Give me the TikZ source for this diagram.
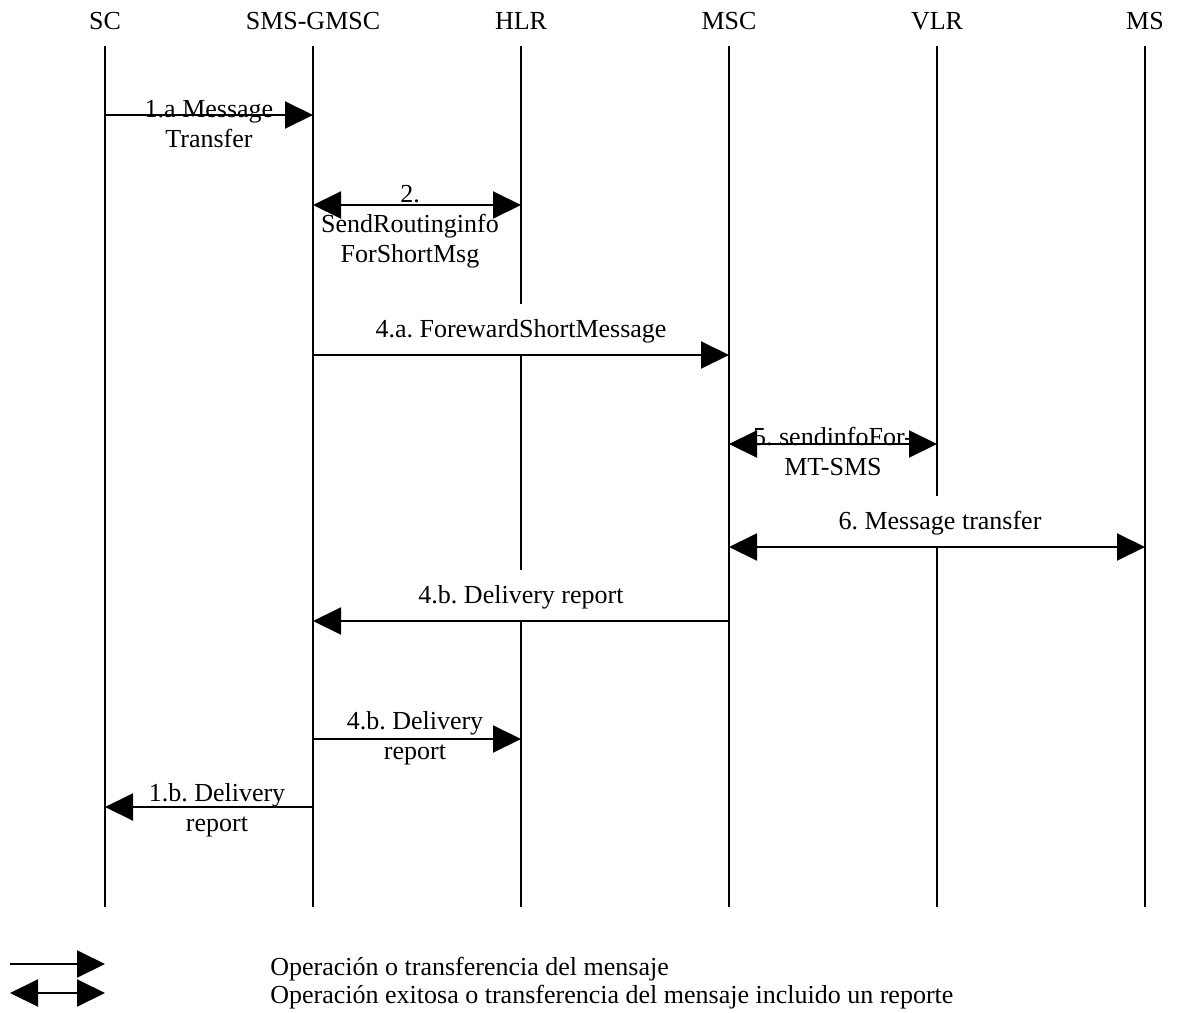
\documentclass[tikz,border=0pt]{standalone}
\usepackage{fontspec}
\setmainfont{Liberation Serif}
\usetikzlibrary{arrows.meta}
\frenchspacing
\begin{document}
\begin{tikzpicture}[x=0.5pt,y=-0.5pt,
  every node/.style={font=\fontsize{13}{15}\selectfont, inner sep=0pt},
  lifeline/.style={line width=0.8pt},
  tip/.tip={Triangle[length=14pt,width=13.5pt]},
  msg/.style={line width=1pt, -tip},
  msgboth/.style={line width=1pt, tip-tip},
  head/.style={anchor=base},
  twoline/.style={align=center, anchor=base},
  oneline/.style={anchor=south, fill=white, text height=15.5pt, text depth=7pt,
                  inner ysep=1.5pt, inner xsep=2pt},
]
\useasboundingbox (0,0) rectangle (1180,1013);

% participants and their lifelines
\foreach \n/\x/\t in {SC/105/SC, GMSC/313/SMS-GMSC, HLR/521/HLR, MSC/729/MSC, VLR/937/VLR, MS/1145/MS} {
  \node[head] (h\n) at (\x,29) {\t};
  \coordinate (\n-top) at (\x,46);
  \coordinate (\n-bot) at (\x,907);
}
\foreach \n in {SC,GMSC,HLR,MSC,MS} \draw[lifeline] (\n-top) -- (\n-bot);
% VLR lifeline is interrupted below the location update exchange
\coordinate (VLR-end) at (937,497);
\coordinate (VLR-resume) at (937,547);
\draw[lifeline] (VLR-top) -- (VLR-end);
\draw[lifeline] (VLR-resume) -- (VLR-bot);

% end points of the messages
\coordinate (m1a-s) at (105,115);  \coordinate (m1a-e) at (313,115);
\coordinate (m2-s)  at (313,205);  \coordinate (m2-e)  at (521,205);
\coordinate (m4a-s) at (313,355);  \coordinate (m4a-e) at (729,355);
\coordinate (m5-s)  at (729,444);  \coordinate (m5-e)  at (937,444);
\coordinate (m6-s)  at (729,547);  \coordinate (m6-e)  at (1145,547);
\coordinate (m4b-s) at (729,621);  \coordinate (m4b-e) at (313,621);
\coordinate (m4c-s) at (313,739);  \coordinate (m4c-e) at (521,739);
\coordinate (m1b-s) at (313,807);  \coordinate (m1b-e) at (105,807);

% message labels (multi-line ones are placed by their last baseline)
\node[twoline] (l1a) at (209,147) {1.a Message\\Transfer};
\node[twoline] (l2)  at (410,262) {2.\\SendRoutinginfo\\ForShortMsg};
\node[oneline] (l4a) at (521,355) {4.a. ForewardShortMessage};
\node[twoline] (l5)  at (833,475) {5. sendinfoFor-\\MT-SMS};
\node[oneline] (l6)  at (940,547) {6. Message transfer};
\node[oneline] (l4b) at (521,621) {4.b. Delivery report};
\node[twoline] (l4c) at (415,759) {4.b. Delivery\\report};
\node[twoline] (l1b) at (217,831) {1.b. Delivery\\report};

% messages
\draw[msg]     (m1a-s) -- (m1a-e);
\draw[msgboth] (m2-s)  -- (m2-e);
\draw[msg]     (m4a-s) -- (m4a-e);
\draw[msgboth] (m5-s)  -- (m5-e);
\draw[msgboth] (m6-s)  -- (m6-e);
\draw[msg]     (m4b-s) -- (m4b-e);
\draw[msg]     (m4c-s) -- (m4c-e);
\draw[msg]     (m1b-s) -- (m1b-e);

% legend
\coordinate (lg1-s) at (10,964);  \coordinate (lg1-e) at (105,964);
\coordinate (lg2-s) at (10,993);  \coordinate (lg2-e) at (105,993);
\draw[msg]     (lg1-s) -- (lg1-e);
\draw[msgboth] (lg2-s) -- (lg2-e);
\node[anchor=base west] (lt1) at (270,975) {Operación o transferencia del mensaje};
\node[anchor=base west] (lt2) at (270,1003) {Operación exitosa o transferencia del mensaje incluido un reporte};
\end{tikzpicture}
\end{document}
